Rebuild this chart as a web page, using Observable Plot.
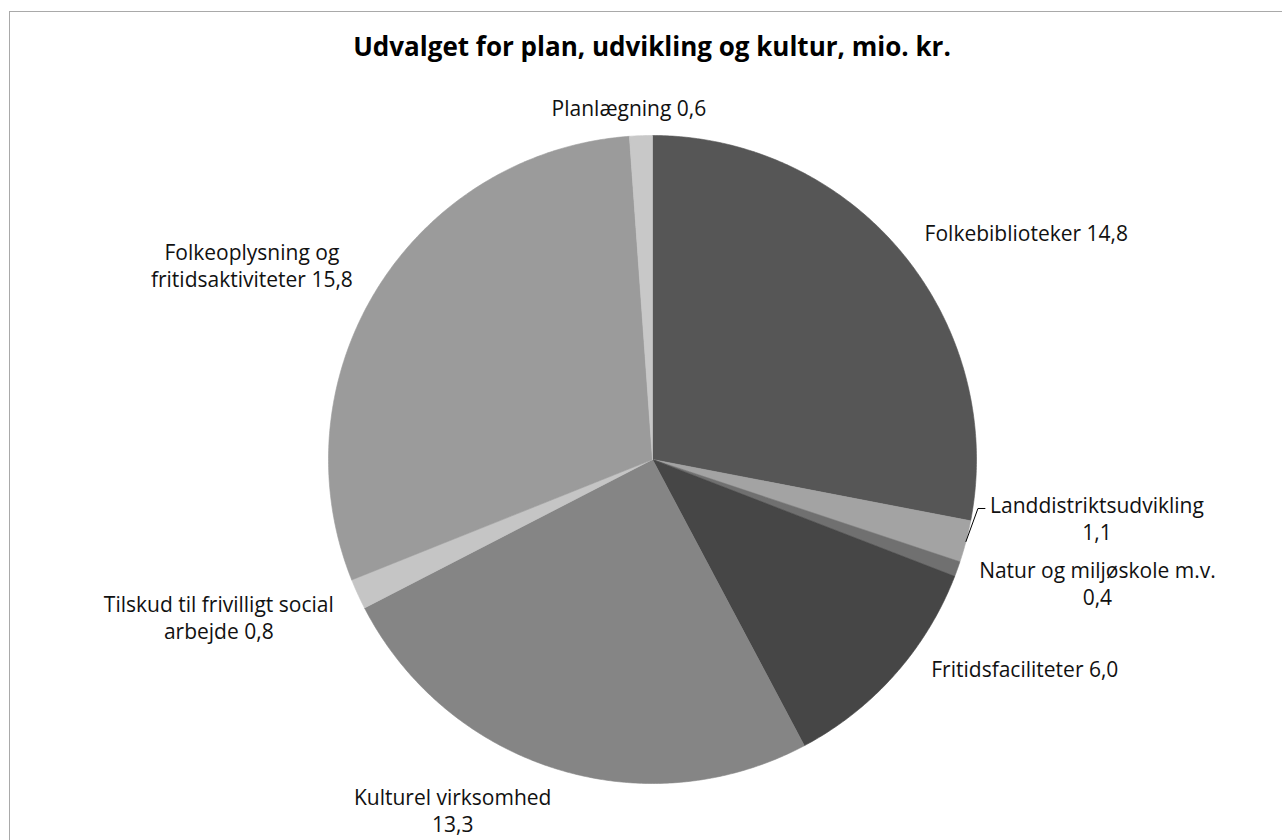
<!DOCTYPE html>
<html><head><meta charset="utf-8">
<script src="https://cdn.jsdelivr.net/npm/d3@7"></script>
<script src="https://cdn.jsdelivr.net/npm/@observablehq/plot@0.6"></script>
<style>
body{margin:0;background:#fff;width:1282px;height:840px;overflow:hidden;position:relative;font-family:"Open Sans",sans-serif}
#frame{position:absolute;left:9px;top:11px;width:1320px;height:900px;border:1.5px solid #a9a9a9;box-sizing:border-box}
#title{position:absolute;left:0;top:30px;width:1304px;text-align:center;font-weight:bold;font-size:26px;line-height:32px;color:#000}
#chart{position:absolute;left:0;top:0}
</style></head><body>
<div id="frame"></div>
<div id="chart"></div>
<div id="title">Udvalget for plan, udvikling og kultur, mio. kr.</div>
<script>
// ---- data ----
const categories = ["Folkebiblioteker", "Landdistriktsudvikling", "Natur og miljøskole m.v.", "Fritidsfaciliteter", "Kulturel virksomhed", "Tilskud til frivilligt social arbejde", "Folkeoplysning og fritidsaktiviteter", "Planlægning"];
const values = [14.8, 1.1, 0.4, 6.0, 13.3, 0.8, 15.8, 0.6];
const valueLabels = ["14,8", "1,1", "0,4", "6,0", "13,3", "0,8", "15,8", "0,6"];
const labelTexts = ["Folkebiblioteker 14,8", "Landdistriktsudvikling\n1,1", "Natur og miljøskole m.v.\n0,4", "Fritidsfaciliteter 6,0", "Kulturel virksomhed\n13,3", "Tilskud til frivilligt social\narbejde 0,8", "Folkeoplysning og\nfritidsaktiviteter 15,8", "Planlægning 0,6"];
const shades = ["#565656", "#a3a3a3", "#707070", "#464646", "#858585", "#c5c5c5", "#9b9b9b", "#c8c8c8"];
// label nudges from slice mid-arc point (px, y up)
const labelNudge = [[124, 21], [131, 24], [140, -14], [130, 6], [-103, -41], [-139, -23], [-126, 23], [-12, 28]];

// ---- layout ----
const cx = 652, cy = 459, R = 324;
const total = d3.sum(values);
const slices = [];
let acc = 0;
values.forEach((v, i) => {
  const a0 = acc / total * 2 * Math.PI, a1 = (acc + v) / total * 2 * Math.PI;
  slices.push({name: categories[i], value: v, a0, a1, mid: (a0 + a1) / 2, shade: shades[i], label: labelTexts[i], nudge: labelNudge[i]});
  acc += v;
});
const pts = [];
for (const s of slices) {
  pts.push({name: s.name, shade: s.shade, x: 0, y: 0});
  const n = Math.max(2, Math.ceil((s.a1 - s.a0) / (Math.PI / 360)));
  for (let k = 0; k <= n; k++) {
    const a = s.a0 + (s.a1 - s.a0) * k / n;
    pts.push({name: s.name, shade: s.shade, x: Math.sin(a), y: Math.cos(a)});
  }
  pts.push({name: s.name, shade: s.shade, x: 0, y: 0});
}
const labels = slices.map(s => ({
  text: s.label,
  x: Math.sin(s.mid) + s.nudge[0] / R,
  y: Math.cos(s.mid) + s.nudge[1] / R
}));
// leader line for Landdistriktsudvikling
const ld = slices[1];
const p0 = {x: Math.sin(ld.mid), y: Math.cos(ld.mid)};
const leader = [
  {x: p0.x, y: p0.y},
  {x: p0.x + 12 / R, y: p0.y + 33 / R},
  {x: p0.x + 19 / R, y: p0.y + 33 / R}
];

const chart = Plot.plot({
  width: 1282, height: 840, margin: 0,
  x: {domain: [-1, 1], range: [cx - R, cx + R], axis: null},
  y: {domain: [-1, 1], range: [cy + R, cy - R], axis: null},
  style: {background: "transparent", fontFamily: "'Open Sans', sans-serif"},
  marks: [
    Plot.line(pts, {x: "x", y: "y", z: "name", fill: d => d.shade, stroke: d => d.shade, strokeWidth: 0.6}),
    Plot.line(leader, {x: "x", y: "y", stroke: "#000", strokeWidth: 1}),
    Plot.text(labels, {x: "x", y: "y", text: "text", fontSize: 21, lineHeight: 1.3, fill: "#111", textAnchor: "middle", lineAnchor: "middle"})
  ]
});
document.getElementById("chart").appendChild(chart);
</script>
</body></html>
